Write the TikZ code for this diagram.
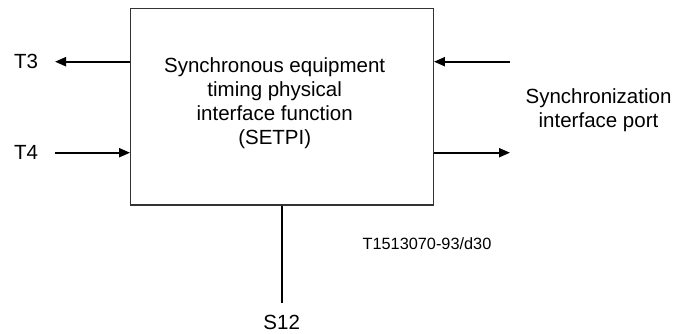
\documentclass[tikz,border=0pt]{standalone}
\usepackage{fontspec}
\setmainfont{Liberation Sans}
\usetikzlibrary{arrows.meta, positioning}

\begin{document}
\begin{tikzpicture}[x=1pt, y=1pt,
      blk/.style={draw=black!80, line width=1.3pt, minimum width=302.6pt, minimum height=196.6pt, inner sep=0pt},
      lbl/.style={inner sep=0pt, align=center, font=\fontsize{20.5}{24.2}\selectfont},
      sig/.style={line width=2pt, -{Triangle[length=11pt, width=9pt]}},
      wire/.style={line width=2pt}]
    \useasboundingbox (0,0) rectangle (674,333);
    \node[blk] (setpi) at (282,226.3) {};
    \node[lbl] (name) at (274.7,230) {Synchronous equipment\\timing physical\\interface function\\(SETPI)};
    \coordinate (t3end) at (55,271.3);
    \coordinate (t4start) at (55,180.3);
    \coordinate (syncin) at (510,271.3);
    \coordinate (syncout) at (510,180.3);
    \coordinate (s12end) at (282,30);
    \node[lbl] (t3) at (26,271.3) {T3};
    \node[lbl] (t4) at (26,180.3) {T4};
    \node[lbl] (port) at (598.5,223) {Synchronization\\interface port};
    \node[lbl] (s12) at (281.7,11) {S12};
    \node[lbl, font=\fontsize{16.3}{19}\selectfont] (fig) at (427,89.7) {T1513070-93/d30};
    \draw[sig] (setpi.west |- t3end) -- (t3end);
    \draw[sig] (t4start) -- (setpi.west |- t4start);
    \draw[sig] (syncin) -- (setpi.east |- syncin);
    \draw[sig] (setpi.east |- syncout) -- (syncout);
    \draw[wire] (setpi.south) -- (s12end);
  \end{tikzpicture}
\end{document}
